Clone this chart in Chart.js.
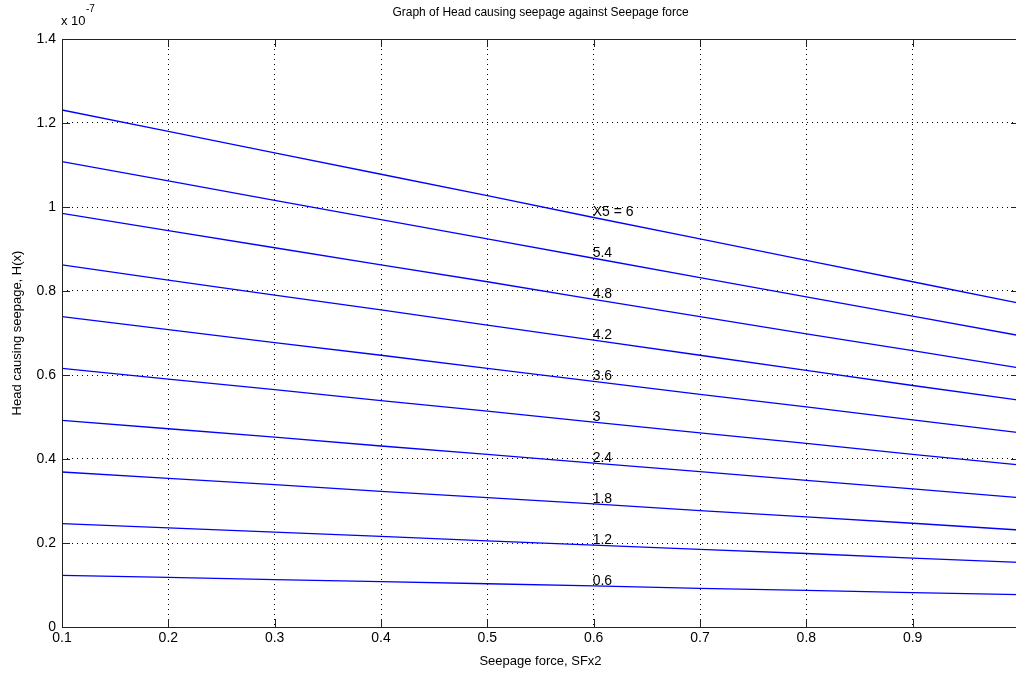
<!DOCTYPE html>
<html>
<head>
<meta charset="utf-8">
<script src="https://cdn.jsdelivr.net/npm/chart.js@4/dist/chart.umd.min.js"></script>
<style>
  html, body { margin: 0; padding: 0; background: #fff; overflow: hidden; }
  #wrap { width: 1030px; height: 679px; }
</style>
</head>
<body>
<div id="wrap"><canvas id="chart" width="1030" height="679"></canvas></div>
<script>
// Seepage force (SFx2) sample points
const sfValues = [0.1, 0.2, 0.3, 0.4, 0.5, 0.6, 0.7, 0.8, 0.9, 1.0];

// curve labels (X5) written at SF = 0.6
const curveLabels = ['X5 = 6', '5.4', '4.8', '4.2', '3.6', '3', '2.4', '1.8', '1.2', '0.6'];

// head H(x), in units of 1e-7
const headX5_6   = [1.231, 1.180, 1.129, 1.078, 1.027, 0.975, 0.924, 0.873, 0.822, 0.771];
const headX5_5_4 = [1.108, 1.062, 1.016, 0.970, 0.924, 0.878, 0.832, 0.786, 0.740, 0.694];
const headX5_4_8 = [0.985, 0.944, 0.903, 0.862, 0.822, 0.780, 0.739, 0.698, 0.658, 0.617];
const headX5_4_2 = [0.862, 0.826, 0.790, 0.755, 0.719, 0.683, 0.647, 0.611, 0.575, 0.540];
const headX5_3_6 = [0.739, 0.708, 0.677, 0.647, 0.616, 0.585, 0.554, 0.524, 0.493, 0.463];
const headX5_3   = [0.616, 0.590, 0.565, 0.539, 0.514, 0.488, 0.462, 0.437, 0.411, 0.386];
const headX5_2_4 = [0.492, 0.472, 0.452, 0.431, 0.411, 0.390, 0.370, 0.349, 0.329, 0.308];
const headX5_1_8 = [0.369, 0.354, 0.339, 0.323, 0.308, 0.293, 0.277, 0.262, 0.247, 0.231];
const headX5_1_2 = [0.246, 0.236, 0.226, 0.216, 0.205, 0.195, 0.185, 0.175, 0.164, 0.154];
const headX5_0_6 = [0.123, 0.118, 0.113, 0.108, 0.103, 0.098, 0.092, 0.087, 0.082, 0.077];

const allHeads = [headX5_6, headX5_5_4, headX5_4_8, headX5_4_2, headX5_3_6,
                  headX5_3, headX5_2_4, headX5_1_8, headX5_1_2, headX5_0_6];

const xTicks = [0.1, 0.2, 0.3, 0.4, 0.5, 0.6, 0.7, 0.8, 0.9, 1.0];
const yTicks = [0, 0.2, 0.4, 0.6, 0.8, 1.0, 1.2, 1.4];

const FONT = '"Liberation Sans Narrow", "Liberation Sans", Arial, sans-serif';
const labelAt = 0.6;

const datasets = allHeads.map((vals, i) => ({
  label: curveLabels[i],
  data: sfValues.map((x, j) => ({ x: x, y: vals[j] })),
  borderColor: '#0000ff',
  borderWidth: 1.3,
  pointRadius: 0,
  showLine: true,
  fill: false,
  tension: 0
}));

// box, inner ticks, curve labels, exponent
const matlabLook = {
  id: 'matlabLook',
  afterDatasetsDraw(chart) {
    const { ctx, chartArea: a, scales } = chart;
    const xs = scales.x, ys = scales.y;
    ctx.save();
    ctx.strokeStyle = '#222';
    ctx.lineWidth = 1;
    // box
    ctx.strokeRect(a.left + 0.5, a.top + 0.5, a.right - a.left, a.bottom - a.top);
    // ticks pointing inward
    ctx.beginPath();
    xTicks.forEach(v => {
      const px = Math.round(xs.getPixelForValue(v)) + 0.5;
      ctx.moveTo(px, a.bottom); ctx.lineTo(px, a.bottom - 8);
      ctx.moveTo(px, a.top); ctx.lineTo(px, a.top + 8);
    });
    yTicks.forEach(v => {
      const py = Math.round(ys.getPixelForValue(v)) + 0.5;
      ctx.moveTo(a.left, py); ctx.lineTo(a.left + 8, py);
      ctx.moveTo(a.right, py); ctx.lineTo(a.right - 8, py);
    });
    ctx.stroke();

    // curve labels at SF = 0.6
    ctx.fillStyle = '#000';
    ctx.font = '14px ' + FONT;
    ctx.textAlign = 'left';
    ctx.textBaseline = 'bottom';
    const idx = sfValues.indexOf(labelAt);
    allHeads.forEach((vals, i) => {
      const px = xs.getPixelForValue(labelAt);
      const py = ys.getPixelForValue(vals[idx]);
      ctx.fillText(curveLabels[i], px - 1, py + 2);
    });

    // exponent above the y axis
    ctx.font = '13px ' + FONT;
    ctx.textBaseline = 'alphabetic';
    ctx.fillText('x 10', a.left - 1, a.top - 14);
    ctx.font = '10px ' + FONT;
    ctx.fillText('-7', a.left + 24, a.top - 27);
    ctx.restore();
  }
};

new Chart(document.getElementById('chart'), {
  type: 'scatter',
  data: { datasets },
  options: {
    responsive: false,
    animation: false,
    layout: { padding: { left: 0, right: 11, top: 0, bottom: 0 } },
    plugins: {
      legend: { display: false },
      tooltip: { enabled: false },
      title: {
        display: true,
        fullSize: false,
        text: 'Graph of Head causing seepage against Seepage force',
        color: '#000',
        font: { family: FONT, size: 12, weight: 'normal' },
        padding: { top: 5, bottom: 19.6 }
      }
    },
    scales: {
      x: {
        type: 'linear',
        min: 0.1,
        max: 1.0,
        afterFit(scale) { scale.height = 52; },
        afterBuildTicks(scale) { scale.ticks = xTicks.map(v => ({ value: v })); },
        ticks: {
          color: '#000',
          font: { family: FONT, size: 14 },
          padding: 3,
          maxRotation: 0,
          callback: (v) => String(Number(v.toFixed(1)))
        },
        grid: {
          color: (c) => (c.tick && (c.tick.value <= 0.1 || c.tick.value >= 1.0)) ? 'rgba(0,0,0,0)' : '#000',
          lineWidth: 1,
          drawTicks: false
        },
        border: { display: false, dash: [1, 4] },
        title: {
          display: true,
          text: 'Seepage force, SFx2',
          color: '#000',
          font: { family: FONT, size: 13 },
          padding: { top: 0, bottom: 10 }
        }
      },
      y: {
        min: 0,
        max: 1.4,
        afterFit(scale) { scale.width = 62; },
        afterBuildTicks(scale) { scale.ticks = yTicks.map(v => ({ value: v })); },
        ticks: {
          color: '#000',
          font: { family: FONT, size: 14 },
          padding: 6,
          callback: (v) => String(Number(v.toFixed(1)))
        },
        grid: {
          color: (c) => (c.tick && (c.tick.value <= 0 || c.tick.value >= 1.4)) ? 'rgba(0,0,0,0)' : '#000',
          lineWidth: 1,
          drawTicks: false
        },
        border: { display: false, dash: [1, 4] },
        title: {
          display: true,
          text: 'Head causing seepage, H(x)',
          color: '#000',
          font: { family: FONT, size: 13 },
          padding: { top: 10, bottom: 0 }
        }
      }
    }
  },
  plugins: [matlabLook]
});
</script>
</body>
</html>
